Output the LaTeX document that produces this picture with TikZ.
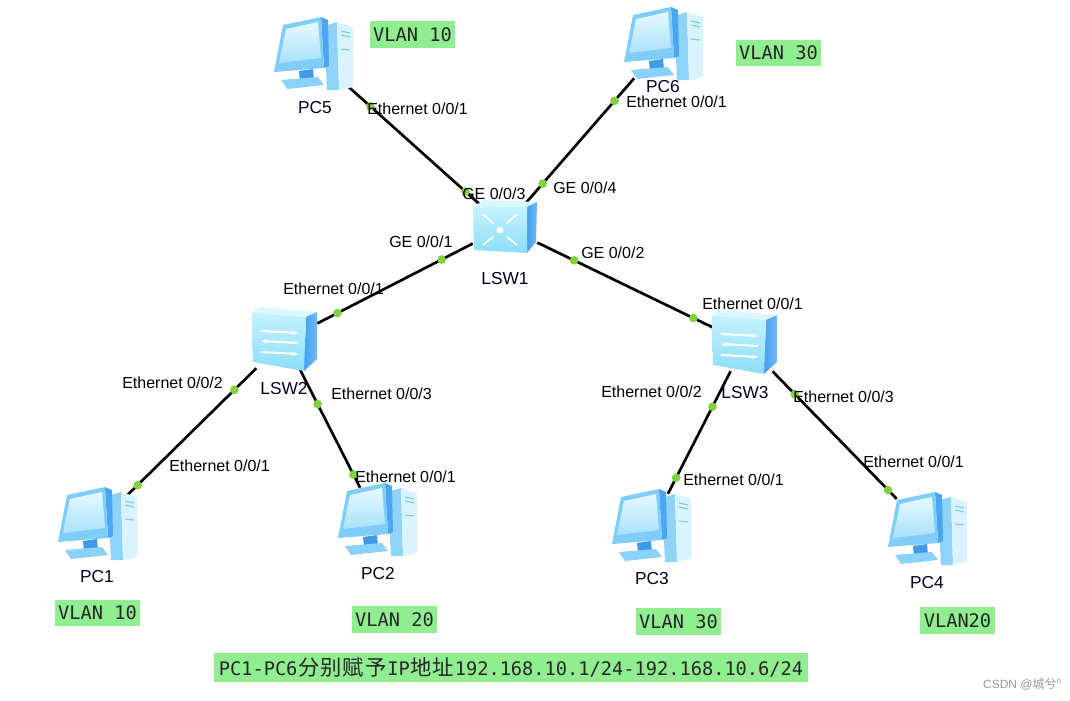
\documentclass[tikz,border=0pt]{standalone}
\usepackage{fontspec}
\setmainfont{Liberation Sans}
\newfontfamily\vmono{DejaVu Sans Mono}
\newfontfamily\cjk{Noto Sans CJK SC}
\newcommand\cjw[1]{\makebox[1.204em]{\cjk\fontsize{16}{16}\selectfont #1}}
\usetikzlibrary{arrows.meta}

\definecolor{dotgreen}{RGB}{130,210,60}
\definecolor{vlangreen}{RGB}{144,238,144}
\definecolor{towerside}{RGB}{143,211,250}
\definecolor{towerfront}{RGB}{217,244,255}
\definecolor{ventblue}{RGB}{124,198,242}
\definecolor{monside}{RGB}{74,166,238}
\definecolor{bezel}{RGB}{127,205,248}
\definecolor{screenlight}{RGB}{230,249,255}
\definecolor{screendark}{RGB}{169,226,251}
\definecolor{neckblue}{RGB}{63,155,232}
\definecolor{baseblue}{RGB}{138,210,250}
\definecolor{swtop}{RGB}{217,248,255}
\definecolor{swfrontT}{RGB}{196,242,255}
\definecolor{swfrontB}{RGB}{140,222,250}
\definecolor{swsideL}{RGB}{70,160,240}
\definecolor{swsideR}{RGB}{110,185,246}

\tikzset{
  pcicon/.pic={
    \fill[towerside] (11,-29) -- (24,-33) -- (26,35) -- (14,35) -- cycle;
    \fill[towerfront] (24,-33) -- (40,-28) -- (40,32) -- (26,35) -- cycle;
    \draw[ventblue, line width=0.8pt] (28,-24) -- (37,-22) (28,-20) -- (37,-18) (28,-6) -- (37,-5);
    \fill[monside] (8,-38) -- (15,-35) -- (16,11) -- (11,13) -- cycle;
    \fill[bezel] (-30,-30) -- (8,-38) -- (11,13) -- (-39,17) -- cycle;
    \shade[top color=screenlight, bottom color=screendark] (-27,-26) -- (5,-33) -- (8,3) -- (-34,8) -- cycle;
    \fill[neckblue] (-14,16) -- (0,14) -- (1,25) -- (-13,26) -- cycle;
    \fill[baseblue] (-32,25) -- (5,22) -- (11,30) -- (-26,34) -- cycle;
  },
  swicon/.pic={
    \fill[swtop] (-33,-27) -- (-26,-33) -- (32,-28) -- (21,-23) -- cycle;
    \shade[left color=swsideL, right color=swsideR] (21,-23) -- (32,-28) -- (32,19) -- (19,31) -- cycle;
    \shade[top color=swfrontT, bottom color=swfrontB] (-33,-27) -- (21,-23) -- (19,31) -- (-32,22) -- cycle;
    \draw[white, line width=1.5pt, -{Stealth[length=4.5pt]}] (-24,-9) -- (13,-7);
    \draw[white, line width=1.5pt, -{Stealth[length=4.5pt]}] (13,3) -- (-24,1);
    \draw[white, line width=1.5pt, -{Stealth[length=4.5pt]}] (-24,12) -- (13,14);
  },
  coreicon/.pic={
    \fill[swtop] (-32,-20) -- (-21,-27) -- (32,-25) -- (22,-20) -- cycle;
    \shade[left color=swsideL, right color=swsideR] (22,-20) -- (32,-25) -- (31,15) -- (22,26) -- cycle;
    \shade[top color=swfrontT, bottom color=swfrontB] (-32,-20) -- (22,-20) -- (22,26) -- (-31,23) -- cycle;
    \fill[white] (-5,3) circle[radius=2.6pt];
    \draw[white, line width=1.2pt, -{Stealth[length=3.5pt]}] (-22,-13) -- (-11,-3);
    \draw[white, line width=1.2pt, -{Stealth[length=3.5pt]}] (12,-13) -- (1,-3);
    \draw[white, line width=1.2pt, -{Stealth[length=3.5pt]}] (-22,18) -- (-11,9);
    \draw[white, line width=1.2pt, -{Stealth[length=3.5pt]}] (12,18) -- (1,9);
  },
  pcnode/.style={draw=none, minimum width=45pt, minimum height=49.5pt, inner sep=0pt},
  corenode/.style={draw=none, minimum width=48pt, minimum height=34.5pt, inner sep=0pt},
  swnode/.style={draw=none, minimum width=48pt, minimum height=42pt, inner sep=0pt},
  link/.style={draw=black, line width=2pt},
  gdot/.style={circle, fill=dotgreen, minimum size=6.5pt, inner sep=0pt},
  port/.style={font=\fontsize{12}{14}\selectfont, inner sep=0pt, anchor=west, text=black},
  devlabel/.style={font=\fontsize{13}{15}\selectfont, inner sep=0pt, text=black!85!blue},
  vlan/.style={fill=vlangreen, font=\vmono\fontsize{14}{16}\selectfont, inner xsep=2.6pt, inner ysep=0pt, minimum height=20pt, text=black!85},
}

\begin{document}
\begin{tikzpicture}[x=0.75pt,y=-0.75pt]
\useasboundingbox (0,0) rectangle (1070,700);
\fill[white] (0,0) rectangle (1070,700);

% device nodes
\node[pcnode] (pc5) at (313,55) {};
\node[pcnode] (pc6) at (663,45) {};
\node[corenode] (lsw1) at (505,227) {};
\node[swnode] (lsw2) at (285,340) {};
\node[swnode] (lsw3) at (745,343) {};
\node[pcnode] (pc1) at (97,525) {};
\node[pcnode] (pc2) at (377,521) {};
\node[pcnode] (pc3) at (651,527) {};
\node[pcnode] (pc4) at (927,530) {};

% links
\draw[link] (pc5) -- node[gdot,pos=0.20]{} node[gdot,pos=0.90]{} (lsw1);
\draw[link] (pc6) -- node[gdot,pos=0.18]{} node[gdot,pos=0.84]{} (lsw1);
\draw[link] (lsw1) -- node[gdot,pos=0.20]{} node[gdot,pos=0.87]{} (lsw2);
\draw[link] (lsw1) -- node[gdot,pos=0.21]{} node[gdot,pos=0.89]{} (lsw3);
\draw[link] (lsw2) -- node[gdot,pos=0.17]{} node[gdot,pos=0.92]{} (pc1);
\draw[link] (lsw2) -- node[gdot,pos=0.30]{} node[gdot,pos=0.89]{} (pc2);
\draw[link] (lsw3) -- node[gdot,pos=0.29]{} node[gdot,pos=0.87]{} (pc3);
\draw[link] (lsw3) -- node[gdot,pos=0.18]{} node[gdot,pos=0.93]{} (pc4);

% icons
\pic at (pc5) {pcicon};
\pic at (pc6) {pcicon};
\pic at (pc1) {pcicon};
\pic at (pc2) {pcicon};
\pic at (pc3) {pcicon};
\pic at (pc4) {pcicon};
\pic at (lsw1) {coreicon};
\pic at (lsw2) {swicon};
\pic at (lsw3) {swicon};

% device labels
\node[devlabel] (lpc5) at (315,108) {PC5};
\node[devlabel] (lpc6) at (663,87) {PC6};
\node[devlabel] (llsw1) at (505,279) {LSW1};
\node[devlabel] (llsw2) at (284,389) {LSW2};
\node[devlabel] (llsw3) at (745,393) {LSW3};
\node[devlabel] (lpc1) at (97,577) {PC1};
\node[devlabel] (lpc2) at (378,574) {PC2};
\node[devlabel] (lpc3) at (652,579) {PC3};
\node[devlabel] (lpc4) at (927,583) {PC4};

% port labels
\node[port] (p1) at (367,109) {Ethernet 0/0/1};
\node[port] (p2) at (462,194) {GE 0/0/3};
\node[port] (p3) at (626,102) {Ethernet 0/0/1};
\node[port] (p4) at (553,188) {GE 0/0/4};
\node[port] (p5) at (389,242) {GE 0/0/1};
\node[port] (p6) at (283,289) {Ethernet 0/0/1};
\node[port] (p7) at (581,253) {GE 0/0/2};
\node[port] (p8) at (702,304) {Ethernet 0/0/1};
\node[port] (p9) at (122,383) {Ethernet 0/0/2};
\node[port] (p10) at (169,466) {Ethernet 0/0/1};
\node[port] (p11) at (331,394) {Ethernet 0/0/3};
\node[port] (p12) at (355,477) {Ethernet 0/0/1};
\node[port] (p13) at (601,392) {Ethernet 0/0/2};
\node[port] (p14) at (683,480) {Ethernet 0/0/1};
\node[port] (p15) at (793,397) {Ethernet 0/0/3};
\node[port] (p16) at (863,462) {Ethernet 0/0/1};

% VLAN tags
\node[vlan] (v5) at (412.5,34.5) {VLAN 10};
\node[vlan] (v6) at (778.5,53) {VLAN 30};
\node[vlan] (v1) at (97.5,613) {VLAN 10};
\node[vlan] (v2) at (394.5,619.5) {VLAN 20};
\node[vlan] (v3) at (678.5,621.5) {VLAN 30};
\node[vlan] (v4) at (957.5,620.5) {VLAN20};

% bottom note
\node[vlan, minimum height=22pt, inner xsep=3.5pt] (note) at (511,667.5) {PC1-PC6\cjw{分}\cjw{别}\cjw{赋}\cjw{予}IP\cjw{地}\cjw{址}192.168.10.1/24-192.168.10.6/24};

% watermark
\node[anchor=east, inner sep=0pt, text=black!40, font=\fontsize{9}{10}\selectfont] (wm) at (1062,684) {CSDN @{\cjk 城兮}\textsuperscript{n}};
\end{tikzpicture}
\end{document}
